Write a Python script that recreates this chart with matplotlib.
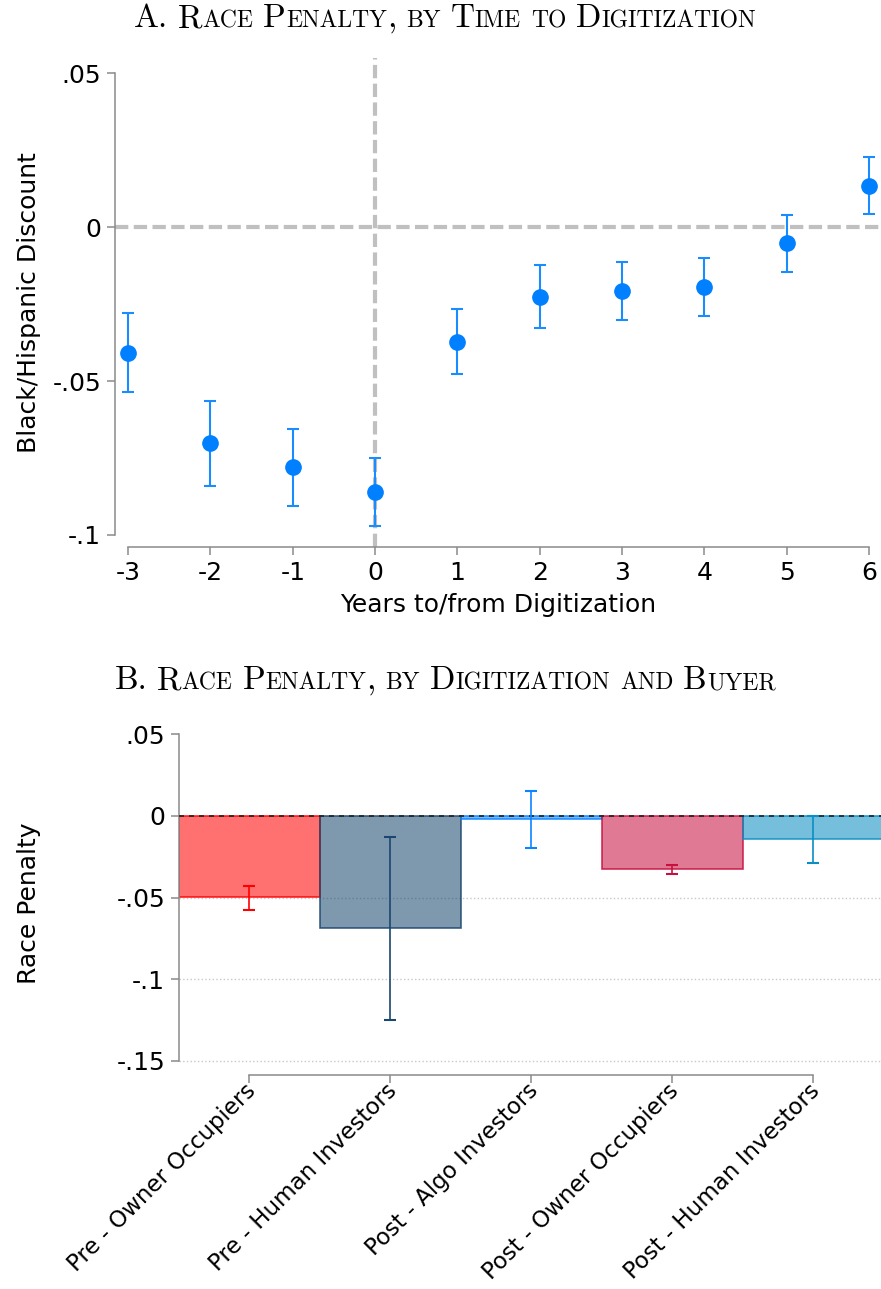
import matplotlib
matplotlib.use("Agg")
import matplotlib.pyplot as plt
from matplotlib.transforms import IdentityTransform, ScaledTranslation

W, H = 881, 1289

# Panel A: race penalty by years to/from digitization
years = [-3, -2, -1, 0, 1, 2, 3, 4, 5, 6]
discount = [-0.0408, -0.0702, -0.0779, -0.0860, -0.0372, -0.0226, -0.0208, -0.0195, -0.0053, 0.0134]
disc_lo = [-0.0537, -0.0841, -0.0905, -0.0971, -0.0478, -0.0329, -0.0302, -0.0288, -0.0145, 0.0042]
disc_hi = [-0.0280, -0.0564, -0.0655, -0.0751, -0.0266, -0.0123, -0.0114, -0.0102, 0.0039, 0.0226]

# Panel B: race penalty by digitization and buyer
groups = ["Pre - Owner Occupiers", "Pre - Human Investors", "Post - Algo Investors",
          "Post - Owner Occupiers", "Post - Human Investors"]
penalty = [-0.0495, -0.0687, -0.0016, -0.0324, -0.0141]
pen_lo = [-0.0575, -0.1248, -0.0194, -0.0357, -0.0287]
pen_hi = [-0.0426, -0.0128, 0.0153, -0.0302, 0.0000]
bar_colors = ["#ff0000", "#1a476f", "#0a84ff", "#c8103f", "#0a8ec4"]

AXIS_GRAY = "#8a8a8a"
BLUE = "#0080ff"
LABEL_SIZE = 18
TICK_SIZE = 18


def smallcaps_title(fig, text, xc, y_base, big=24, small=17):
    """Fake small caps: capitals at full size, lowercase as smaller capitals."""
    renderer = fig.canvas.get_renderer()
    gap = big * 100 / 72 * 0.30
    words = []
    for word in text.split(" "):
        runs = []
        for ch in word:
            size = small if ch.islower() else big
            if runs and runs[-1][1] == size:
                runs[-1][0] += ch.upper()
            else:
                runs.append([ch.upper(), size])
        arts = []
        for run, size in runs:
            t = fig.text(0, y_base, run, fontsize=size, family="cmr10",
                         va="baseline", ha="left", transform=IdentityTransform())
            arts.append((t, t.get_window_extent(renderer).width))
        words.append(arts)
    total = sum(w for arts in words for _, w in arts) + gap * (len(words) - 1)
    x = xc - total / 2
    for arts in words:
        for t, w in arts:
            t.set_x(x)
            x += w
        x += gap


def style_axes(ax):
    for side in ["top", "right"]:
        ax.spines[side].set_visible(False)
    for side in ["left", "bottom"]:
        ax.spines[side].set_color(AXIS_GRAY)
        ax.spines[side].set_linewidth(1.1)
    ax.tick_params(colors=AXIS_GRAY, labelcolor="black", width=1.1, length=6,
                   labelsize=TICK_SIZE, pad=4)


fig = plt.figure(figsize=(W / 100, H / 100), dpi=100)

# ---- Panel A ----
axA = fig.add_axes([115 / W, 1 - 547 / H, 1 - 115 / W, (547 - 58) / H])
axA.axhline(0, color="#c0c0c0", lw=3, dashes=(3.2, 1.3), zorder=1)
axA.axvline(0, color="#c0c0c0", lw=3, dashes=(3.2, 1.3), zorder=1)
yerrA = [[d - lo for d, lo in zip(discount, disc_lo)],
         [hi - d for d, hi in zip(discount, disc_hi)]]
axA.errorbar(years, discount, yerr=yerrA, fmt="o", color=BLUE, ecolor="#1a8cff",
             elinewidth=1.5, capsize=4, capthick=1.5, markersize=11, zorder=3)
axA.set_xlim(-3.16, 6.146)
axA.set_ylim(-0.1039, 0.0549)
style_axes(axA)
axA.spines["left"].set_bounds(-0.1, 0.05)
axA.spines["bottom"].set_bounds(-3, 6)
axA.set_xticks(years)
axA.set_xticklabels([str(y) for y in years])
axA.set_yticks([0.05, 0, -0.05, -0.1])
axA.set_yticklabels([".05", "0", "-.05", "-.1"])
axA.set_xlabel("Years to/from Digitization", fontsize=LABEL_SIZE, labelpad=6)
axA.set_ylabel("Black/Hispanic Discount", fontsize=LABEL_SIZE, labelpad=8)

# ---- Panel B ----
axB = fig.add_axes([179 / W, 1 - 1075 / H, 1 - 179 / W, (1075 - 731) / H])
pos = list(range(1, len(groups) + 1))
for yv in [-0.05, -0.1, -0.15]:
    axB.axhline(yv, color="#c8c8c8", lw=1, ls=":", zorder=0)
for p, v, c in zip(pos, penalty, bar_colors):
    axB.bar(p, v, width=1.0, color=c, alpha=0.56, edgecolor="none", zorder=1)
    axB.bar(p, v, width=1.0, facecolor="none", edgecolor=c, lw=1.2, alpha=0.85, zorder=2)
axB.axhline(0, color="#222222", lw=1.2, dashes=(3, 3), zorder=3)
for p, v, lo, hi, c in zip(pos, penalty, pen_lo, pen_hi, bar_colors):
    axB.errorbar(p, v, yerr=[[v - lo], [hi - v]], fmt="none", ecolor=c,
                 elinewidth=1.2, capsize=4, capthick=1.5, zorder=4)
axB.set_xlim(0.5, 5.48)
axB.set_ylim(-0.1586, 0.052)
style_axes(axB)
axB.spines["left"].set_bounds(-0.15, 0.05)
axB.spines["bottom"].set_bounds(1, 5)
axB.set_xticks(pos)
axB.set_xticklabels(groups, rotation=45, ha="right", rotation_mode="anchor", fontsize=16.5)
axB.tick_params(axis="x", pad=2)
# nudge the slanted labels so their ends sit just under the ticks
shift = ScaledTranslation(-5 / 100, 7 / 100, fig.dpi_scale_trans)
for lab in axB.get_xticklabels():
    lab.set_transform(lab.get_transform() + shift)
axB.set_yticks([0.05, 0, -0.05, -0.1, -0.15])
axB.set_yticklabels([".05", "0", "-.05", "-.1", "-.15"])
axB.set_ylabel("Race Penalty", fontsize=LABEL_SIZE, labelpad=54)

smallcaps_title(fig, "A. Race Penalty, by Time to Digitization", 445, H - 27)
smallcaps_title(fig, "B. Race Penalty, by Digitization and Buyer", 445, H - 689)

fig.savefig("out.png", dpi=100)
